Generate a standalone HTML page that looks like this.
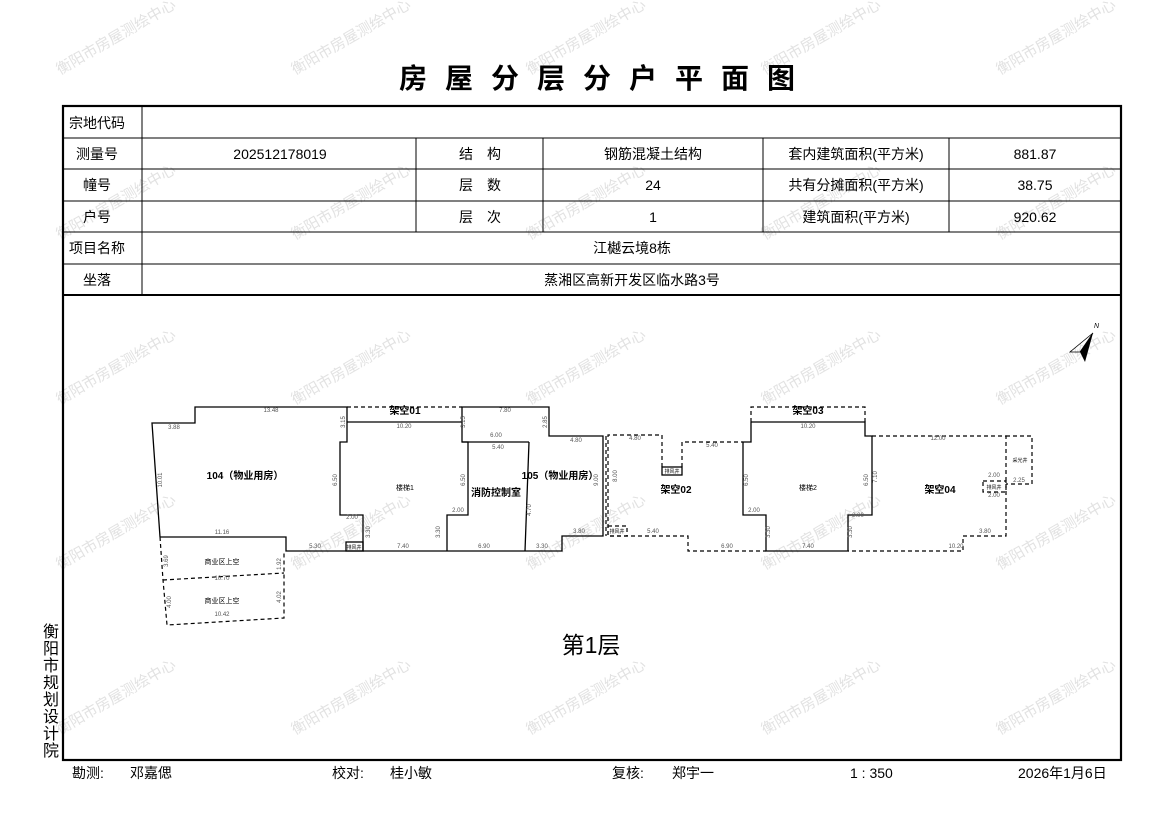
<!DOCTYPE html>
<html><head><meta charset="utf-8"><style>
html,body{margin:0;padding:0;background:#fff;}
svg{display:block;}
text{font-family:"Liberation Sans","Noto Sans CJK SC","WenQuanYi Zen Hei",sans-serif;}
.t{font-size:14px;fill:#000;text-anchor:middle;}
.d{font-size:6px;fill:#555;text-anchor:middle;font-family:"Liberation Serif",serif;}
.w{font-size:15px;fill:#e2e2e2;}
.s{fill:none;stroke:#000;stroke-width:1.3;}
.da{fill:none;stroke:#000;stroke-width:1.2;stroke-dasharray:4,3;}
.lb{font-size:10px;font-weight:bold;fill:#000;text-anchor:middle;}
.sm{font-size:7px;fill:#000;text-anchor:middle;}
</style></head><body>
<svg width="1169" height="827" viewBox="0 0 1169 827" xmlns="http://www.w3.org/2000/svg">
<g class="w">
<text transform="translate(60,75) rotate(-30)">衡阳市房屋测绘中心</text>
<text transform="translate(295,75) rotate(-30)">衡阳市房屋测绘中心</text>
<text transform="translate(530,75) rotate(-30)">衡阳市房屋测绘中心</text>
<text transform="translate(765,75) rotate(-30)">衡阳市房屋测绘中心</text>
<text transform="translate(1000,75) rotate(-30)">衡阳市房屋测绘中心</text>
<text transform="translate(60,240) rotate(-30)">衡阳市房屋测绘中心</text>
<text transform="translate(295,240) rotate(-30)">衡阳市房屋测绘中心</text>
<text transform="translate(530,240) rotate(-30)">衡阳市房屋测绘中心</text>
<text transform="translate(765,240) rotate(-30)">衡阳市房屋测绘中心</text>
<text transform="translate(1000,240) rotate(-30)">衡阳市房屋测绘中心</text>
<text transform="translate(60,405) rotate(-30)">衡阳市房屋测绘中心</text>
<text transform="translate(295,405) rotate(-30)">衡阳市房屋测绘中心</text>
<text transform="translate(530,405) rotate(-30)">衡阳市房屋测绘中心</text>
<text transform="translate(765,405) rotate(-30)">衡阳市房屋测绘中心</text>
<text transform="translate(1000,405) rotate(-30)">衡阳市房屋测绘中心</text>
<text transform="translate(60,570) rotate(-30)">衡阳市房屋测绘中心</text>
<text transform="translate(295,570) rotate(-30)">衡阳市房屋测绘中心</text>
<text transform="translate(530,570) rotate(-30)">衡阳市房屋测绘中心</text>
<text transform="translate(765,570) rotate(-30)">衡阳市房屋测绘中心</text>
<text transform="translate(1000,570) rotate(-30)">衡阳市房屋测绘中心</text>
<text transform="translate(60,735) rotate(-30)">衡阳市房屋测绘中心</text>
<text transform="translate(295,735) rotate(-30)">衡阳市房屋测绘中心</text>
<text transform="translate(530,735) rotate(-30)">衡阳市房屋测绘中心</text>
<text transform="translate(765,735) rotate(-30)">衡阳市房屋测绘中心</text>
<text transform="translate(1000,735) rotate(-30)">衡阳市房屋测绘中心</text>
</g>
<text x="606" y="88" style="font-size:28px;font-weight:bold;text-anchor:middle;letter-spacing:18px" font-family="Noto Serif CJK SC, serif">房屋分层分户平面图</text>
<rect x="63" y="106" width="1058" height="654" fill="none" stroke="#000" stroke-width="2.2"/>
<g stroke="#000" stroke-width="1">
<line x1="63" y1="138" x2="1121" y2="138"/>
<line x1="63" y1="169" x2="1121" y2="169"/>
<line x1="63" y1="201" x2="1121" y2="201"/>
<line x1="63" y1="232" x2="1121" y2="232"/>
<line x1="63" y1="264" x2="1121" y2="264"/>
<line x1="142" y1="106" x2="142" y2="295"/>
<line x1="416" y1="138" x2="416" y2="232"/>
<line x1="543" y1="138" x2="543" y2="232"/>
<line x1="763" y1="138" x2="763" y2="232"/>
<line x1="949" y1="138" x2="949" y2="232"/>
</g>
<line x1="63" y1="295" x2="1121" y2="295" stroke="#000" stroke-width="2"/>
<g class="t">
<text x="97" y="128">宗地代码</text>
<text x="97" y="159">测量号</text>
<text x="97" y="190">幢号</text>
<text x="97" y="222">户号</text>
<text x="97" y="253">项目名称</text>
<text x="97" y="285">坐落</text>
<text x="280" y="159">202512178019</text>
<text x="480" y="159">结　构</text>
<text x="480" y="190">层　数</text>
<text x="480" y="222">层　次</text>
<text x="653" y="159">钢筋混凝土结构</text>
<text x="653" y="190">24</text>
<text x="653" y="222">1</text>
<text x="856" y="159">套内建筑面积(平方米)</text>
<text x="856" y="190">共有分摊面积(平方米)</text>
<text x="856" y="222">建筑面积(平方米)</text>
<text x="1035" y="159">881.87</text>
<text x="1035" y="190">38.75</text>
<text x="1035" y="222">920.62</text>
<text x="632" y="253">江樾云境8栋</text>
<text x="632" y="285">蒸湘区高新开发区临水路3号</text>
</g>
<g style="font-size:16px" text-anchor="middle">
<text x="51" y="637">衡</text><text x="51" y="654">阳</text><text x="51" y="671">市</text><text x="51" y="688">规</text><text x="51" y="705">划</text><text x="51" y="722">设</text><text x="51" y="739">计</text><text x="51" y="756">院</text>
</g>
<g style="font-size:14px">
<text x="72" y="778">勘测:</text><text x="130" y="778">邓嘉偲</text>
<text x="332" y="778">校对:</text><text x="390" y="778">桂小敏</text>
<text x="612" y="778">复核:</text><text x="672" y="778">郑宇一</text>
<text x="850" y="778">1 : 350</text><text x="1018" y="778">2026年1月6日</text>
</g>
<polygon points="1093,333 1070,352 1080,352" fill="none" stroke="#000" stroke-width="0.8"/>
<polygon points="1093,333 1080,352 1085,362" fill="#000"/>
<text x="1094" y="328" style="font-size:7px;font-style:italic">N</text>
<polyline class="s" points="160,537 152,423 195,423 195,407 347,407 347,442 340,442 340,515 363,515 363,551 286,551 286,537 160,537"/>
<line class="s" x1="347" y1="422" x2="462" y2="422"/>
<polyline class="s" points="363,551 562,551 562,536 603,536 603,436 549,436 549,407 462,407 462,442 468,442 468,515 447,515 447,551"/>
<line class="s" x1="462" y1="442" x2="529" y2="442"/>
<line class="s" x1="529" y1="442" x2="525" y2="551"/>
<rect class="s" x="346" y="542" width="17" height="9"/>
<polyline class="s" points="751,422 751,442 743,442 743,515 766,515 766,551 848,551 848,515 872,515 872,436 865,436 865,422 751,422"/>
<rect class="s" x="662" y="467" width="20" height="8"/>
<polyline class="da" points="347,407 462,407"/>
<polyline class="da" points="160,537 163,580 167,625 284,618 284,551"/>
<line class="da" x1="163" y1="580" x2="284" y2="573"/>
<polyline class="da" points="662,467 662,435 608,435 608,536 688,536 688,551 766,551"/>
<polyline class="da" points="682,467 682,442 743,442"/>
<rect class="da" x="608" y="526" width="19" height="10"/>
<polyline class="da" points="751,422 751,407 865,407 865,422"/>
<polyline class="da" points="872,436 1006,436 1006,536 963,536 963,551 848,551"/>
<polyline class="da" points="1006,436 1032,436 1032,484 1006,484"/>
<rect class="da" x="983" y="481" width="23" height="11"/>
<line class="da" x1="606" y1="436" x2="606" y2="536"/>
<g class="lb">
<text x="245" y="479">104（物业用房）</text>
<text x="405" y="414">架空01</text>
<text x="496" y="496">消防控制室</text>
<text x="560" y="479">105（物业用房）</text>
<text x="676" y="493">架空02</text>
<text x="808" y="414">架空03</text>
<text x="940" y="493">架空04</text>
</g>
<g class="sm">
<text x="405" y="490">楼梯1</text><text x="808" y="490">楼梯2</text>
<text x="222" y="564">商业区上空</text><text x="222" y="603">商业区上空</text>
<text x="354" y="549" style="font-size:5px">排风井</text>
<text x="672" y="473" style="font-size:5px">排风井</text>
<text x="617" y="533" style="font-size:5px">排风井</text>
<text x="994" y="489" style="font-size:5px">排风井</text>
<text x="1020" y="462" style="font-size:5px">采光井</text>
</g>
<g class="d">
<text x="174" y="429">3.88</text><text x="271" y="412">13.48</text><text x="404" y="428">10.20</text>
<text x="505" y="412">7.80</text><text x="496" y="437">6.00</text><text x="498" y="449">5.40</text>
<text x="576" y="442">4.80</text><text x="579" y="533">3.80</text><text x="542" y="548">3.30</text>
<text x="484" y="548">6.90</text><text x="403" y="548">7.40</text><text x="315" y="548">5.30</text>
<text x="222" y="534">11.16</text><text x="222" y="580">10.70</text><text x="222" y="616">10.42</text>
<text x="635" y="440">4.80</text><text x="712" y="447">5.40</text><text x="808" y="428">10.20</text>
<text x="938" y="440">12.00</text><text x="956" y="548">10.20</text><text x="727" y="548">6.90</text>
<text x="808" y="548">7.40</text><text x="653" y="533">5.40</text><text x="985" y="533">3.80</text>
<text x="1019" y="482">2.25</text><text x="994" y="477">2.00</text><text x="994" y="497">2.00</text>
<text x="352" y="519">2.00</text><text x="458" y="512">2.00</text><text x="754" y="512">2.00</text><text x="858" y="517">2.00</text>
<text transform="translate(162,480) rotate(-90)">10.01</text>
<text transform="translate(337,480) rotate(-90)">6.50</text>
<text transform="translate(465,480) rotate(-90)">6.50</text>
<text transform="translate(598,480) rotate(-90)">9.00</text>
<text transform="translate(617,476) rotate(-90)">8.00</text>
<text transform="translate(748,480) rotate(-90)">6.50</text>
<text transform="translate(868,480) rotate(-90)">6.50</text>
<text transform="translate(877,477) rotate(-90)">7.10</text>
<text transform="translate(345,422) rotate(-90)">3.15</text>
<text transform="translate(465,422) rotate(-90)">3.15</text>
<text transform="translate(547,422) rotate(-90)">2.85</text>
<text transform="translate(531,510) rotate(-90)">4.70</text>
<text transform="translate(370,532) rotate(-90)">3.30</text>
<text transform="translate(440,532) rotate(-90)">3.30</text>
<text transform="translate(770,532) rotate(-90)">3.30</text>
<text transform="translate(852,532) rotate(-90)">3.30</text>
<text transform="translate(168,561) rotate(-90)">3.69</text>
<text transform="translate(281,564) rotate(-90)">1.92</text>
<text transform="translate(281,597) rotate(-90)">4.02</text>
<text transform="translate(171,602) rotate(-90)">4.00</text>
</g>
<text x="591" y="653" style="font-size:23px;text-anchor:middle" font-family="Liberation Serif, Noto Serif CJK SC, serif">第1层</text>
</svg>
</body></html>
